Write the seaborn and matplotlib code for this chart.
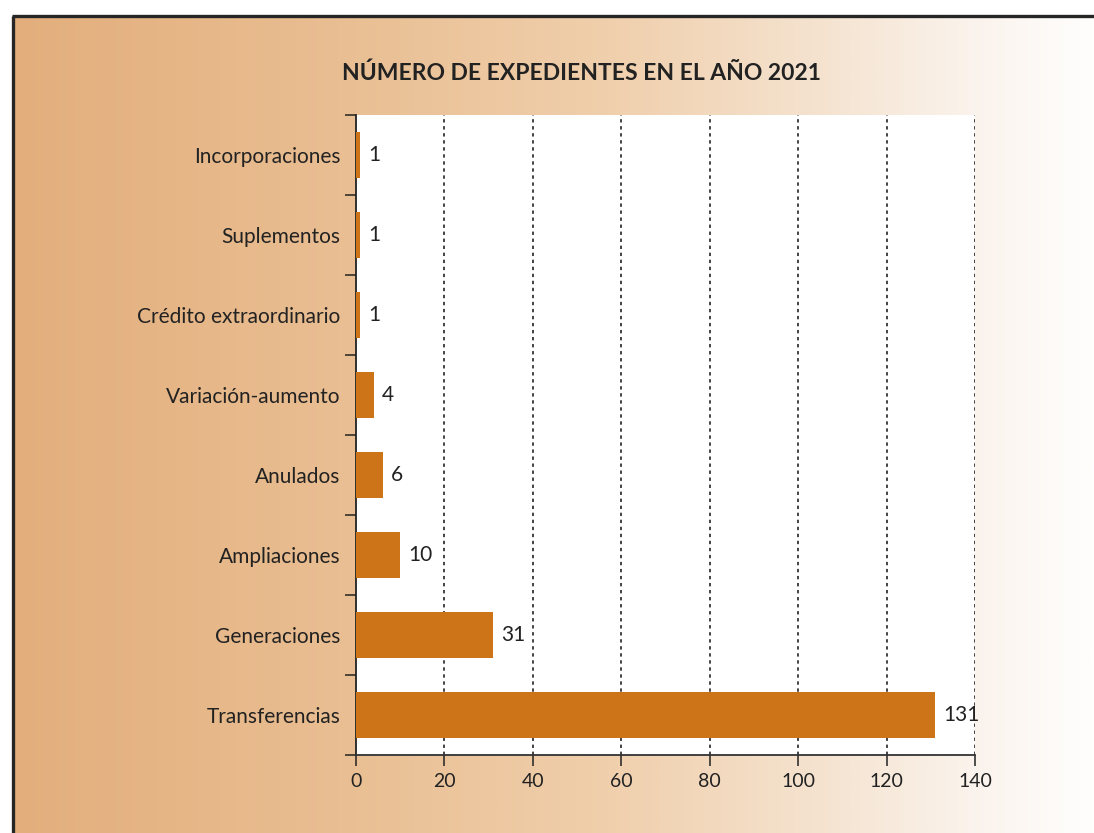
import numpy as np
import matplotlib
matplotlib.use("Agg")
import matplotlib.pyplot as plt
import seaborn as sns
import pandas as pd
from matplotlib.colors import LinearSegmentedColormap
from matplotlib.ticker import FixedLocator

categories = ["Incorporaciones", "Suplementos", "Crédito extraordinario",
              "Variación-aumento", "Anulados", "Ampliaciones",
              "Generaciones", "Transferencias"]
values = [1, 1, 1, 4, 6, 10, 31, 131]
x_ticks = [0, 20, 40, 60, 80, 100, 120, 140]
title = "NÚMERO DE EXPEDIENTES EN EL AÑO 2021"

sns.set_theme(style="white")
plt.rcParams["font.family"] = ["Lato", "DejaVu Sans"]

W, H = 1094, 833
fig = plt.figure(figsize=(W / 100, H / 100), dpi=100)

# background gradient panel
bg = fig.add_axes([0, 0, 1, 1], zorder=-10)
bg.set_xlim(0, W)
bg.set_ylim(H, 0)
bg.axis("off")
cmap = LinearSegmentedColormap.from_list(
    "bgc",
    [(0.0, "#E3AE7C"), (0.3, "#E9BE92"), (0.55, "#F0CFAC"),
     (0.75, "#F5E3D0"), (0.9, "#FBF4EE"), (1.0, "#FFFEFD")])
grad = np.linspace(0, 1, 512)[None, :]
bg.imshow(grad, cmap=cmap, aspect="auto", extent=(13, W, H, 16), zorder=0)
bg.plot([13, 13], [H, 16], color="#262626", lw=2.4, zorder=2, solid_capstyle="butt")
bg.plot([12, W], [16, 16], color="#262626", lw=2.4, zorder=2, solid_capstyle="butt")

ax = fig.add_axes([356 / W, 1 - 755 / H, (975 - 356) / W, (755 - 115) / H])
ax.set_facecolor("white")
df = pd.DataFrame({"cat": categories, "val": values})
sns.barplot(data=df, x="val", y="cat", orient="h", color="#CD7318",
            saturation=1, width=0.57, linewidth=0, ax=ax, zorder=3)

ax.set_xlim(0, 140)
ax.set_ylim(len(categories) - 0.5, -0.5)
ax.set_xticks(x_ticks)
ax.set_xticklabels([str(t) for t in x_ticks], fontsize=14, color="#222222")
ax.set_xlabel("")
ax.set_ylabel("")
ax.tick_params(axis="y", which="major", length=0, pad=11, labelsize=15, labelcolor="#222222")
ax.yaxis.set_minor_locator(FixedLocator(np.arange(-0.5, len(categories), 1.0)))
ax.tick_params(axis="y", which="minor", left=True, length=8, width=1.1, color="#222222")
ax.tick_params(axis="x", which="major", bottom=True, length=8, width=1.1, color="#222222", pad=5)

for x in x_ticks[1:]:
    ax.axvline(x, color="#111111", lw=1.1, ls=(0, (2.2, 2.4)), zorder=1)

for s in ["top", "right"]:
    ax.spines[s].set_visible(False)
ax.spines["left"].set_color("#222222")
ax.spines["left"].set_linewidth(1.3)
ax.spines["bottom"].set_color("#333333")
ax.spines["bottom"].set_linewidth(1.3)

for c in ax.containers:
    ax.bar_label(c, labels=[str(v) for v in values], padding=6,
                 fontsize=15, color="#222222")

fig.text(581 / W, 1 - 73 / H, title, ha="center", va="center",
         fontsize=16.5, fontweight="bold", color="#222222")

fig.savefig("out.png", dpi=100)
